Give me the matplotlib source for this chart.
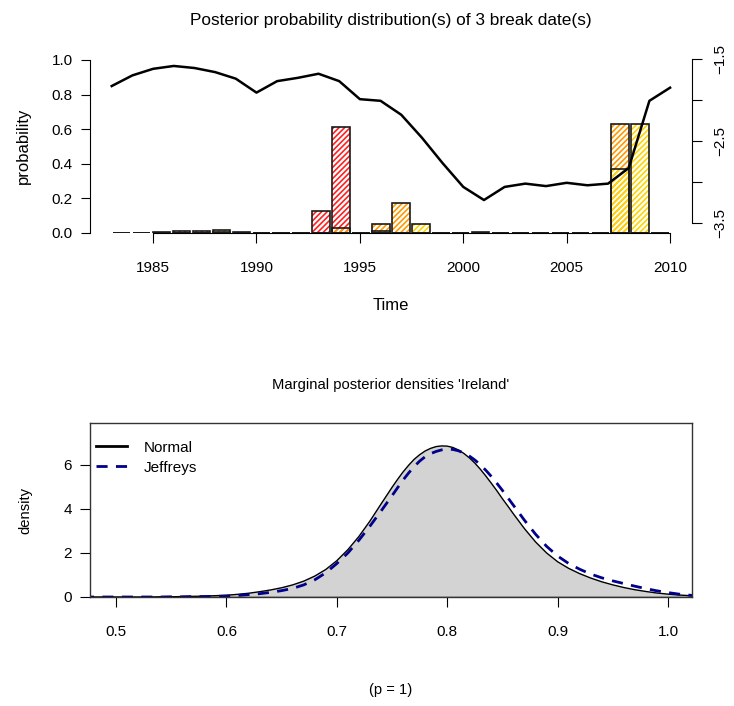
import numpy as np
import matplotlib
matplotlib.use('Agg')
import matplotlib.pyplot as plt
from matplotlib.lines import Line2D

plt.rcParams['font.family'] = ['Liberation Sans', 'DejaVu Sans']
plt.rcParams['hatch.linewidth'] = 1.2

# ---- data: break date posterior probabilities (years 1983-2010) ----
years = list(range(1983, 2011))
break1 = [0, 0, 0, 0.01, 0.01, 0.008, 0.005, 0, 0, 0, 0.13, 0.61, 0, 0.01,
          0, 0, 0, 0, 0.005, 0, 0, 0, 0, 0, 0, 0, 0, 0]
break2 = [0, 0, 0.003, 0, 0, 0.015, 0, 0, 0, 0, 0, 0.03, 0, 0.05,
          0.175, 0, 0, 0, 0, 0, 0, 0, 0, 0, 0, 0.63, 0, 0]
break3 = [0, 0, 0, 0, 0, 0, 0, 0, 0, 0, 0, 0, 0, 0,
          0, 0.05, 0, 0, 0, 0, 0, 0, 0, 0, 0, 0.37, 0.63, 0]
series = [-1.83, -1.70, -1.62, -1.585, -1.61, -1.66, -1.74, -1.91, -1.77, -1.73,
          -1.68, -1.77, -1.99, -2.01, -2.18, -2.46, -2.77, -3.06, -3.22, -3.06,
          -3.02, -3.05, -3.01, -3.04, -3.02, -2.83, -2.01, -1.85]
break_colors = ['#FF2020', '#FF9900', '#FFD500']

# ---- data: marginal posterior densities (finer grid near the mode) ----
p_grid = [0.47, 0.48, 0.49, 0.50, 0.51, 0.52, 0.53, 0.54, 0.55, 0.56,
          0.57, 0.58, 0.59, 0.60, 0.61, 0.62, 0.63, 0.64, 0.65, 0.66,
          0.67, 0.68, 0.69, 0.70, 0.71, 0.72, 0.73, 0.74, 0.745, 0.75,
          0.755, 0.76, 0.765, 0.77, 0.775, 0.78, 0.785, 0.79, 0.795, 0.80,
          0.805, 0.81, 0.815, 0.82, 0.825, 0.83, 0.835, 0.84, 0.845, 0.85,
          0.855, 0.86, 0.87, 0.88, 0.89, 0.90, 0.91, 0.92, 0.93, 0.94,
          0.95, 0.96, 0.97, 0.98, 0.99, 1.00, 1.01, 1.02, 1.03]
dens_normal = [0.00, 0.00, 0.00, 0.00, 0.00, 0.00, 0.00, 0.01, 0.01, 0.02,
               0.03, 0.04, 0.06, 0.08, 0.12, 0.17, 0.24, 0.32, 0.42, 0.55,
               0.72, 0.95, 1.25, 1.65, 2.15, 2.75, 3.45, 4.22, 4.60, 4.98,
               5.34, 5.68, 5.98, 6.25, 6.46, 6.63, 6.75, 6.83, 6.86, 6.85,
               6.79, 6.68, 6.52, 6.32, 6.08, 5.80, 5.49, 5.16, 4.82, 4.46,
               4.12, 3.77, 3.10, 2.50, 2.00, 1.60, 1.30, 1.06, 0.86, 0.69,
               0.55, 0.43, 0.33, 0.25, 0.18, 0.13, 0.09, 0.06, 0.04]
dens_jeffreys = [0.00, 0.00, 0.00, 0.00, 0.00, 0.00, 0.00, 0.00, 0.01, 0.01,
                 0.02, 0.02, 0.03, 0.04, 0.07, 0.11, 0.15, 0.21, 0.29, 0.39,
                 0.55, 0.78, 1.10, 1.52, 2.00, 2.58, 3.22, 3.90, 4.25, 4.60,
                 4.96, 5.31, 5.63, 5.92, 6.17, 6.37, 6.51, 6.61, 6.68, 6.71,
                 6.70, 6.64, 6.54, 6.40, 6.22, 6.00, 5.75, 5.47, 5.16, 4.84,
                 4.50, 4.16, 3.48, 2.85, 2.30, 1.86, 1.52, 1.26, 1.04, 0.87,
                 0.73, 0.61, 0.49, 0.38, 0.28, 0.20, 0.13, 0.08, 0.05]

W, H = 734, 706
fig = plt.figure(figsize=(W / 100, H / 100), dpi=100)

# ================= top panel =================
ax = fig.add_axes([90 / W, 1 - 233 / H, 602 / W, 180 / H])
ax.set_xlim(1981.95, 2011.06)
ax.set_ylim(0, 1.04)

# bars fill the time span, one slot per year
n = len(years)
slot = (years[-1] - years[0]) / n
centers = years[0] + (np.arange(n) + 0.5) * slot
for vals, col in zip([break1, break2, break3], break_colors):
    ax.bar(centers, vals, width=slot * 0.88, facecolor='none', edgecolor=col,
           hatch='//////', linewidth=0, zorder=2)
    ax.bar(centers, vals, width=slot * 0.88, facecolor='none', edgecolor='#1a1a1a',
           linewidth=1.2, zorder=3)

ax.set_yticks(np.arange(0, 1.01, 0.2))
ax.set_yticklabels(['0.0', '0.2', '0.4', '0.6', '0.8', '1.0'])
ax.set_xticks(range(1985, 2011, 5))
ax.spines['top'].set_visible(False)
ax.spines['right'].set_visible(False)
ax.spines['left'].set_bounds(0, 1)
ax.spines['bottom'].set_bounds(1985, 2010)
ax.tick_params(axis='y', length=6.5, pad=6, labelsize=11)
ax.tick_params(axis='x', length=7, pad=13, labelsize=11)

ax2 = ax.twinx()
ax2.plot(years, series, color='black', lw=1.8, zorder=4)
ax2.set_ylim(-3.622, -1.427)
ax2.set_yticks([-1.5, -2.0, -2.5, -3.0, -3.5])
ax2.set_yticklabels(['\u22121.5', '', '\u22122.5', '', '\u22123.5'])
for s in ['top', 'left', 'bottom']:
    ax2.spines[s].set_visible(False)
ax2.spines['right'].set_bounds(-3.5, -1.5)
ax2.tick_params(axis='y', length=7, pad=8, labelsize=11, labelrotation=90)
for lab in ax2.get_yticklabels():
    lab.set_verticalalignment('center')

fig.text(391 / W, 1 - 20 / H, 'Posterior probability distribution(s) of 3 break date(s)',
         ha='center', va='center', fontsize=12.4)
fig.text(391 / W, 1 - 306 / H, 'Time', ha='center', va='center', fontsize=12)
fig.text(23 / W, 1 - 146 / H, 'probability', ha='center', va='center',
         rotation=90, fontsize=12)

# ================= bottom panel =================
bx = fig.add_axes([90 / W, 1 - 597 / H, 602 / W, 174 / H])
bx.set_xlim(0.4764, 1.0217)
bx.set_ylim(0, 7.9)
bx.fill_between(p_grid, 0, dens_normal, facecolor='#D3D3D3', edgecolor='none')
bx.plot(p_grid, dens_normal, color='black', lw=1.0)
bx.plot(p_grid, dens_jeffreys, color='#00008B', lw=2, ls=(0, (4, 3)))
bx.axhline(0, color='black', lw=1.0)

bx.set_xticks([0.5, 0.6, 0.7, 0.8, 0.9, 1.0])
bx.set_yticks([0, 2, 4, 6])
bx.tick_params(axis='x', length=7, pad=13, labelsize=11)
bx.tick_params(axis='y', length=7, pad=6, labelsize=11)
for s in bx.spines.values():
    s.set_color('#333333')
    s.set_linewidth(1.0)

handles = [Line2D([], [], color='black', lw=2),
           Line2D([], [], color='#00008B', lw=2, ls=(0, (4, 3)))]
bx.legend(handles, ['Normal', 'Jeffreys'], loc='upper left', frameon=False,
          fontsize=11, handlelength=2.0, bbox_to_anchor=(-0.009, 0.965),
          borderaxespad=0.35, labelspacing=0.4, handletextpad=1.1)

fig.text(391 / W, 1 - 385 / H, "Marginal posterior densities 'Ireland'",
         ha='center', va='center', fontsize=10.6)
fig.text(25 / W, 1 - 510 / H, 'density', ha='center', va='center',
         rotation=90, fontsize=10.6)
fig.text(391 / W, 1 - 690 / H, '(p = 1)', ha='center', va='center', fontsize=10.6)

fig.savefig('out.png', dpi=100)
